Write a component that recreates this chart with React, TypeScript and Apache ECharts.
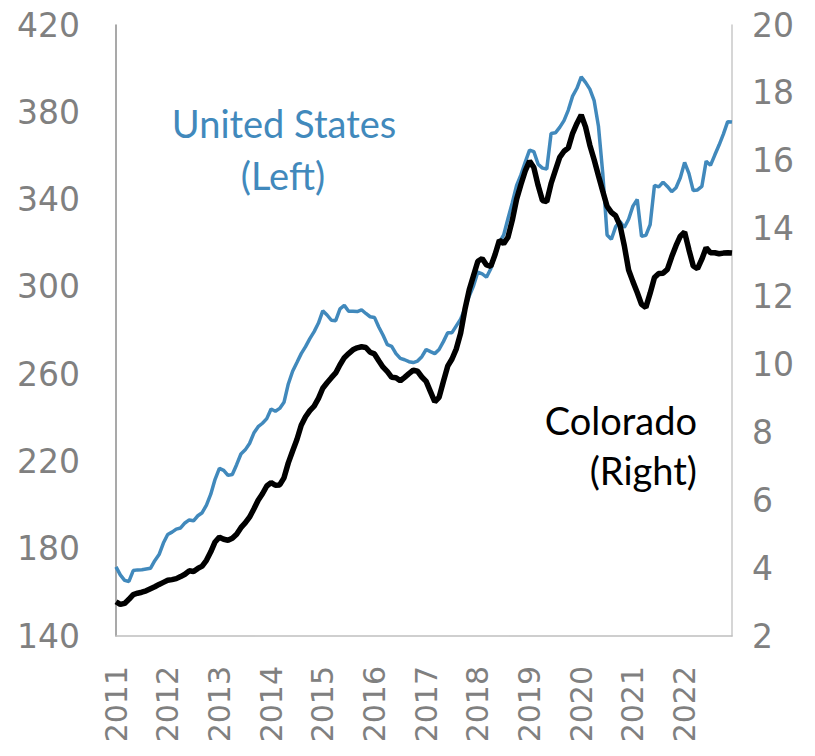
import React, { useEffect, useRef } from "react";
import * as echarts from "echarts";

const years = ["2011","2012","2013","2014","2015","2016","2017","2018","2019","2020","2021","2022"];
const months = ["01","02","03","04","05","06","07","08","09","10","11","12"];
const categories: string[] = [];
years.forEach((y) => months.forEach((m) => categories.push(y + "-" + m)));

const unitedStates = [
  171.7,168,165.5,165,170,170.3,170.4,170.7,171,174.5,177.3,182.6,
  186.5,187.6,189,189.5,191.8,193.2,192.8,195.1,196.5,200,205,211.8,
  216.8,215.9,213.6,214,218.5,223.4,225.3,228.2,233,235.9,237.5,239.6,
  244,243,244.3,247.1,255.5,261.3,265.3,269.4,272.6,276.3,279.5,283.4,
  289,287.1,284.7,284.5,289.9,291.5,288.8,288.8,288.7,289.5,287.8,286.3,
  286,281.6,277.8,273.5,272.7,269.4,267.2,266.6,265.7,265.3,266,268,
  271.3,270.3,269.4,271.3,274.9,279,279,282.1,285.2,290,295.8,300.5,
  306.8,306,304.4,308.3,314.3,320.4,323.8,331.3,338.6,346.5,351.3,357.2,
  362.7,362,356.2,354.4,354,370.3,370.6,373.1,376.2,381,387.4,391,
  396.2,393.7,390.6,385.3,373.6,352,323.8,321.8,327.6,330,327.2,331,
  337,340,323.2,323.6,328.5,346.5,345.8,348,346,343.6,345.4,350,
  357,352,344.1,344.4,346,357.6,355.7,360.4,365,370,375.7,375.5
];

const colorado = [
  3.01,2.93,2.96,3.08,3.22,3.26,3.29,3.33,3.39,3.45,3.52,3.58,
  3.64,3.66,3.69,3.75,3.82,3.92,3.9,3.99,4.06,4.23,4.48,4.77,
  4.91,4.85,4.82,4.88,5.0,5.19,5.33,5.5,5.74,6.0,6.19,6.42,
  6.52,6.44,6.45,6.66,7.1,7.45,7.79,8.21,8.46,8.64,8.77,9.0,
  9.3,9.46,9.61,9.75,9.99,10.2,10.32,10.43,10.49,10.52,10.5,10.36,
  10.31,10.11,9.92,9.79,9.62,9.61,9.52,9.62,9.73,9.83,9.8,9.63,
  9.5,9.2,8.9,9.03,9.5,9.95,10.16,10.46,10.92,11.62,12.2,12.62,
  13.04,13.12,12.93,12.89,13.24,13.66,13.56,13.75,14.25,14.87,15.3,15.7,
  15.99,15.8,15.27,14.83,14.8,15.33,15.72,16.1,16.28,16.38,16.81,17.1,
  17.35,17.0,16.46,16.03,15.56,15.1,14.66,14.48,14.38,14.1,13.5,12.78,
  12.44,12.12,11.77,11.68,12.1,12.56,12.68,12.69,12.8,13.17,13.5,13.78,
  13.9,13.38,12.9,12.82,13.1,13.44,13.29,13.29,13.26,13.28,13.29,13.28
];

const AXIS_FONT = "'DejaVu Sans', sans-serif";
const NOTE_FONT = "Lato, 'Noto Sans', sans-serif";
const GRAY = "#808080";
const BLUE = "#4189bc";

export default function App() {
  const ref = useRef<HTMLDivElement>(null);
  useEffect(() => {
    if (!ref.current) return;
    const chart = echarts.init(ref.current, null, { renderer: "svg" });
    chart.setOption({
      animation: false,
      backgroundColor: "#ffffff",
      grid: { left: 116, right: 83, top: 25, bottom: 120 },
      xAxis: {
        type: "category",
        data: categories,
        boundaryGap: false,
        axisLine: { show: true, lineStyle: { color: "#bfbfbf", width: 1.5 } },
        axisTick: { show: false },
        axisLabel: {
          interval: 11,
          rotate: 90,
          margin: 30,
          color: GRAY,
          fontSize: 30,
          fontFamily: AXIS_FONT,
          formatter: (v: string) => v.slice(0, 4),
        },
        splitLine: { show: false },
      },
      yAxis: [
        {
          type: "value",
          min: 140,
          max: 420,
          interval: 40,
          position: "left",
          axisLine: { show: true, lineStyle: { color: "#8c8c8c", width: 1.5 } },
          axisTick: { show: false },
          splitLine: { show: false },
          axisLabel: { color: GRAY, fontSize: 33, fontFamily: AXIS_FONT, margin: 36 },
        },
        {
          type: "value",
          min: 2,
          max: 20,
          interval: 2,
          position: "right",
          axisLine: { show: true, lineStyle: { color: "#c8c8c8", width: 1.5 } },
          axisTick: { show: false },
          splitLine: { show: false },
          axisLabel: { color: GRAY, fontSize: 33, fontFamily: AXIS_FONT, margin: 20 },
        },
      ],
      series: [
        {
          name: "United States",
          type: "line",
          data: unitedStates,
          yAxisIndex: 0,
          showSymbol: false,
          lineStyle: { color: BLUE, width: 3.5 },
          itemStyle: { color: BLUE },
          z: 2,
        },
        {
          name: "Colorado",
          type: "line",
          data: colorado,
          yAxisIndex: 1,
          showSymbol: false,
          lineStyle: { color: "#000000", width: 5.5 },
          itemStyle: { color: "#000000" },
          z: 3,
        },
      ],
      graphic: [
        {
          type: "text",
          x: 284,
          y: 123,
          style: { text: "United States", fill: BLUE, font: "38px " + NOTE_FONT, align: "center", verticalAlign: "middle" },
        },
        {
          type: "text",
          x: 283,
          y: 175,
          style: { text: "(Left)", fill: BLUE, font: "38px " + NOTE_FONT, align: "center", verticalAlign: "middle" },
        },
        {
          type: "text",
          x: 697,
          y: 420,
          style: { text: "Colorado", fill: "#000000", font: "38px " + NOTE_FONT, align: "right", verticalAlign: "middle" },
        },
        {
          type: "text",
          x: 697,
          y: 470,
          style: { text: "(Right)", fill: "#000000", font: "38px " + NOTE_FONT, align: "right", verticalAlign: "middle" },
        },
      ],
    });
    return () => chart.dispose();
  }, []);
  return (
    <div
      ref={ref}
      style={{ position: "fixed", left: 0, top: 0, width: 815, height: 756 }}
    />
  );
}
